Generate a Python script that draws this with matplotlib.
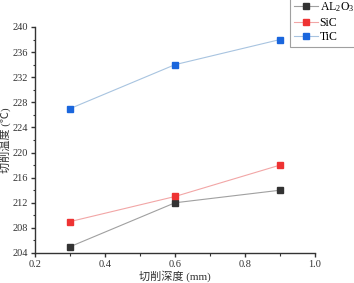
import matplotlib.pyplot as plt
from matplotlib.ticker import MultipleLocator, FuncFormatter

depth = [0.3, 0.6, 0.9]
al2o3 = [205, 212, 214]
sic = [209, 213, 218]
tic = [227, 234, 238]

plt.rcParams['font.family'] = ['Liberation Serif', 'Noto Sans CJK SC']
plt.rcParams['mathtext.fontset'] = 'custom'
plt.rcParams['mathtext.rm'] = 'Liberation Serif'
plt.rcParams['mathtext.it'] = 'Liberation Serif:italic'

fig = plt.figure(figsize=(3.54, 2.83), dpi=100)
ax = fig.add_axes([35 / 354, 1 - 253 / 283, 280 / 354, 226 / 283])

ax.plot(depth, al2o3, color='#a0a0a0', lw=0.8, marker='s', ms=4.5,
        mfc='#333333', mec='#333333', label=r'AL$\mathrm{_2}$O$\mathrm{_3}$')
ax.plot(depth, sic, color='#f2a6a6', lw=0.8, marker='s', ms=4.5,
        mfc='#ee3333', mec='#ee3333', label='SiC')
ax.plot(depth, tic, color='#a8c4e0', lw=0.8, marker='s', ms=4.5,
        mfc='#1a66dd', mec='#1a66dd', label='TiC')

ax.set_xlim(0.2, 1.0)
ax.set_ylim(204, 240)
ax.xaxis.set_major_locator(MultipleLocator(0.2))
ax.xaxis.set_minor_locator(MultipleLocator(0.1))
ax.yaxis.set_major_locator(MultipleLocator(4))
ax.yaxis.set_minor_locator(MultipleLocator(2))
ax.xaxis.set_major_formatter(FuncFormatter(lambda v, p: '%.1f' % v))

for s in ['top', 'right']:
    ax.spines[s].set_visible(False)
for s in ['left', 'bottom']:
    ax.spines[s].set_linewidth(1.0)
    ax.spines[s].set_color('#333333')
ax.tick_params(which='major', direction='out', length=3, width=1.0,
               labelsize=7.5, colors='#333333', pad=2)
ax.tick_params(which='minor', direction='out', length=1.8, width=0.8, colors='#333333')

ax.set_xlabel('切削深度 (mm)', fontsize=8, labelpad=1, color='#333333')
ax.set_ylabel('切削温度 (℃)', fontsize=8, labelpad=1, color='#333333')

leg = ax.legend(loc='upper left', bbox_to_anchor=(290 / 354, 1 + 3 / 283),
                bbox_transform=fig.transFigure, fontsize=8.5, frameon=True,
                fancybox=False, edgecolor='#888888', handlelength=2.1,
                borderpad=0.3, labelspacing=0.2, handletextpad=0.1,
                borderaxespad=0)
leg.get_frame().set_linewidth(0.8)

fig.savefig('out.png', dpi=100)
